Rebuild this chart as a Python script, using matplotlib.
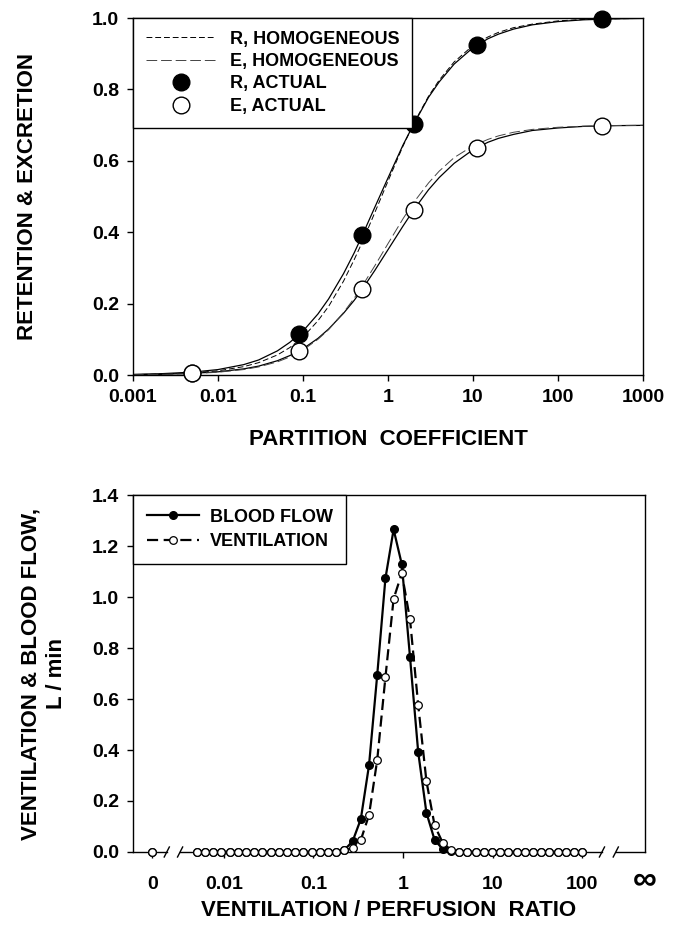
import numpy as np
import matplotlib
matplotlib.use("Agg")
import matplotlib.pyplot as plt
from matplotlib.ticker import NullLocator

plt.rcParams['font.family'] = ['Liberation Sans', 'DejaVu Sans']
plt.rcParams['font.weight'] = 'bold'
plt.rcParams['axes.labelweight'] = 'bold'
plt.rcParams['axes.linewidth'] = 1.0

# --- panel A: retention / excretion of the six gases
lam_gas = [0.005, 0.09, 0.5, 2.0, 11.0, 330.0]
r_actual = [0.007, 0.114, 0.392, 0.702, 0.924, 0.997]
e_actual = [0.005, 0.068, 0.241, 0.462, 0.637, 0.698]

# curves
lam_curve = [0.001, 0.002, 0.005, 0.01, 0.02, 0.03, 0.05, 0.07, 0.1, 0.15,
             0.2, 0.3, 0.4, 0.5, 0.7, 1.0, 1.5, 2.0, 3.0, 4.0,
             6.0, 10.0, 15.0, 20.0, 30.0, 50.0, 100.0, 200.0, 500.0, 1000.0]
r_fit = [0.0017, 0.0033, 0.0080, 0.0152, 0.029, 0.042, 0.0676, 0.0915, 0.123, 0.171,
         0.213, 0.284, 0.342, 0.392, 0.470, 0.552, 0.644, 0.702, 0.778, 0.821,
         0.871, 0.917, 0.942, 0.955, 0.969, 0.981, 0.990, 0.995, 0.998, 0.999]
r_homog = [0.0012, 0.0024, 0.0059, 0.0118, 0.0233, 0.0345, 0.0562, 0.0769, 0.106, 0.152,
           0.192, 0.263, 0.323, 0.373, 0.455, 0.543, 0.641, 0.704, 0.781, 0.826,
           0.877, 0.923, 0.947, 0.960, 0.973, 0.983, 0.992, 0.996, 0.998, 0.999]
e_fit = [0.0010, 0.0019, 0.0047, 0.0089, 0.0171, 0.0248, 0.040, 0.0544, 0.0734, 0.1026,
         0.1287, 0.173, 0.209, 0.241, 0.293, 0.351, 0.417, 0.462, 0.519, 0.553,
         0.593, 0.631, 0.652, 0.663, 0.674, 0.685, 0.692, 0.6965, 0.6986, 0.6993]
e_homog = [0.0008, 0.0016, 0.0039, 0.0077, 0.0152, 0.0226, 0.0368, 0.0505, 0.070, 0.100,
           0.127, 0.175, 0.215, 0.250, 0.306, 0.368, 0.4375, 0.483, 0.538, 0.571,
           0.609, 0.642, 0.660, 0.670, 0.680, 0.688, 0.694, 0.697, 0.699, 0.6994]

# --- panel B: 50-compartment distribution (shunt, 48 compartments, dead space)
vaq = np.logspace(np.log10(0.005), 2, 48)
blood_flow = ([0.0] * 18 +
              [0.008, 0.042, 0.129, 0.340, 0.694, 1.073, 1.265, 1.128, 0.764, 0.391,
               0.154, 0.047, 0.011, 0.002] +
              [0.0] * 16)
ventilation = ([0.0] * 18 +
               [0.006, 0.015, 0.047, 0.145, 0.361, 0.685, 0.993, 1.093, 0.912, 0.576,
                0.278, 0.104, 0.035, 0.008] +
               [0.0] * 16)
shunt_q = 0.0
shunt_v = 0.0
shunt_pos = 0.0016   # where the "0" compartment sits on the broken axis

fig = plt.figure(figsize=(6.82, 9.34), dpi=100)
ax1 = fig.add_axes([0.195, 0.5985, 0.7478, 0.3822])
ax2 = fig.add_axes([0.195, 0.0878, 0.7507, 0.3822])

# ---- top
ax1.plot(lam_curve, r_fit, color='black', lw=0.9, zorder=2)
ax1.plot(lam_curve, e_fit, color='black', lw=0.9, zorder=2)
ax1.plot(lam_curve, r_homog, color='black', lw=0.7, dashes=(6, 3),
         label='R, HOMOGENEOUS', zorder=2)
ax1.plot(lam_curve, e_homog, color='#444444', lw=0.7, dashes=(11, 4),
         label='E, HOMOGENEOUS', zorder=2)
ax1.plot(lam_gas, r_actual, 'o', ms=12, mfc='black', mec='black',
         label='R, ACTUAL', zorder=3, clip_on=False)
ax1.plot(lam_gas, e_actual, 'o', ms=12, mfc='white', mec='black', mew=1.0,
         label='E, ACTUAL', zorder=4, clip_on=False)

ax1.set_xscale('log')
ax1.set_xlim(0.001, 1000)
ax1.set_ylim(0, 1.0)
ax1.set_xticks([0.001, 0.01, 0.1, 1, 10, 100, 1000])
ax1.set_xticklabels(['0.001', '0.01', '0.1', '1', '10', '100', '1000'])
ax1.xaxis.set_minor_locator(NullLocator())
ax1.set_yticks(np.arange(0, 1.01, 0.2))
ax1.set_yticklabels(['%.1f' % v for v in np.arange(0, 1.01, 0.2)])
ax1.tick_params(direction='out', length=4, width=1, labelsize=14, pad=6)
ax1.set_xlabel('PARTITION  COEFFICIENT', fontsize=16)
ax1.set_ylabel('RETENTION & EXCRETION', fontsize=16)
ax1.yaxis.set_label_coords(-0.187, 0.5)
ax1.xaxis.set_label_coords(0.5, -0.152)
leg1 = ax1.legend(loc='upper left', bbox_to_anchor=(0, 1), borderaxespad=0,
                  fancybox=False, edgecolor='black', framealpha=1, fontsize=13,
                  handlelength=3.9, handletextpad=0.75, labelspacing=0.3,
                  borderpad=0.7, numpoints=1)
leg1.get_frame().set_linewidth(1.0)

# ---- bottom
ax2.plot(vaq, blood_flow, color='black', lw=1.6, marker='o', ms=5.5,
         mfc='black', mec='black', label='BLOOD FLOW', zorder=3, clip_on=False)
ax2.plot(vaq, ventilation, color='black', lw=1.6, dashes=(5, 2.5), marker='o',
         ms=5.5, mfc='white', mec='black', mew=0.9, label='VENTILATION',
         zorder=4, clip_on=False)
ax2.plot([shunt_pos], [shunt_q], 'o', ms=5.5, mfc='black', mec='black',
         zorder=3, clip_on=False)
ax2.plot([shunt_pos], [shunt_v], 'o', ms=5.5, mfc='white', mec='black',
         mew=0.9, zorder=4, clip_on=False)

ax2.set_xscale('log')
ax2.set_xlim(10 ** -3.013, 10 ** 2.70)
ax2.set_ylim(0, 1.4)
ax2.set_xticks([shunt_pos, 0.01, 0.1, 1, 10, 100])
ax2.set_xticklabels(['0', '0.01', '0.1', '1', '10', '100'])
ax2.xaxis.set_minor_locator(NullLocator())
ax2.set_yticks(np.arange(0, 1.41, 0.2))
ax2.set_yticklabels(['%.1f' % v for v in np.arange(0, 1.41, 0.2)])
ax2.tick_params(direction='out', length=4, width=1, labelsize=14, pad=6)
ax2.tick_params(axis='x', pad=13)
ax2.text(1.0, -0.078, '\u221e', transform=ax2.transAxes, ha='center',
         va='center', fontsize=24, fontweight='bold')
ax2.set_xlabel('VENTILATION / PERFUSION  RATIO', fontsize=16)
ax2.set_ylabel('VENTILATION & BLOOD FLOW,\nL / min', fontsize=16,
               linespacing=1.3)
ax2.yaxis.set_label_coords(-0.129, 0.5)
ax2.xaxis.set_label_coords(0.5, -0.135)

# broken bottom spine
ax2.spines['bottom'].set_visible(False)
for x0, x1 in [(0.0, 0.066), (0.092, 0.916), (0.943, 1.0)]:
    ax2.plot([x0, x1], [0, 0], color='black', lw=1.0,
             transform=ax2.transAxes, clip_on=False, zorder=1)
for xb in [0.066, 0.092, 0.916, 0.943]:
    ax2.plot([xb - 0.005, xb + 0.005], [-0.014, 0.014], color='black', lw=1.0,
             transform=ax2.transAxes, clip_on=False)

leg2 = ax2.legend(loc='upper left', bbox_to_anchor=(0, 1), borderaxespad=0,
                  fancybox=False, edgecolor='black', framealpha=1, fontsize=13,
                  handlelength=2.9, handletextpad=0.6, labelspacing=0.42,
                  borderpad=0.75, numpoints=1)
leg2.get_frame().set_linewidth(1.0)

fig.savefig('out.png', dpi=100)
